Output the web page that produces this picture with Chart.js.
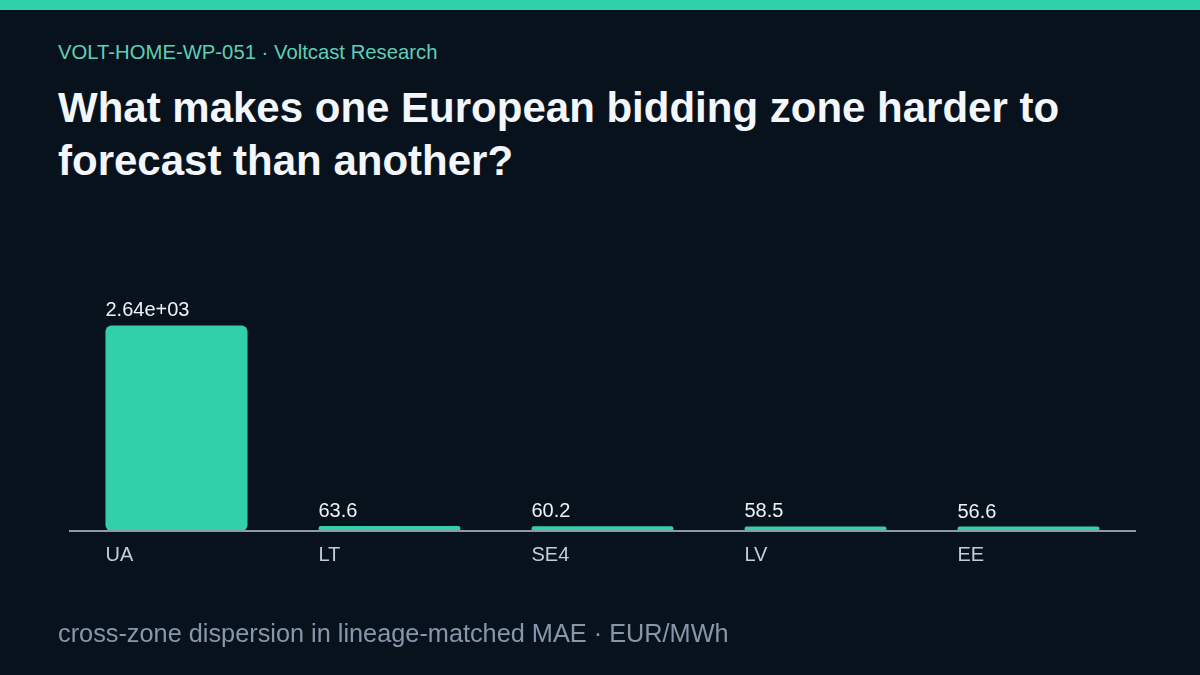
<!DOCTYPE html>
<html>
<head>
<meta charset="utf-8">
<script src="https://cdn.jsdelivr.net/npm/chart.js@4.4.1/dist/chart.umd.min.js"></script>
<style>
  html, body { margin: 0; padding: 0; }
  body {
    width: 1200px; height: 675px; overflow: hidden;
    background: #08121d;
    font-family: "Liberation Sans", Arial, sans-serif;
    position: relative;
  }
  .stripe { position: absolute; left: 0; top: 0; width: 1200px; height: 10px; background: #2fd0a9; }
  .kicker { position: absolute; left: 58px; top: 41px; font-size: 20.3px; color: #5fcfb5; }
  h1 {
    position: absolute; left: 58px; top: 81px; margin: 0; width: 1080px;
    font-size: 42px; line-height: 53px; font-weight: bold; color: #f3f6fa;
  }
  .note { position: absolute; left: 58px; top: 619px; font-size: 25.3px; color: #8796aa; }
  #chart { position: absolute; left: 0; top: 0; }
</style>
</head>
<body>
<div class="stripe"></div>
<div class="kicker">VOLT-HOME-WP-051 · Voltcast Research</div>
<h1>What makes one European bidding zone harder to forecast than another?</h1>
<canvas id="chart" width="1200" height="675"></canvas>
<div class="note">cross-zone dispersion in lineage-matched MAE · EUR/MWh</div>

<script>
// zones and their MAE dispersion (EUR/MWh)
const zones = ['UA', 'LT', 'SE4', 'LV', 'EE'];
const maeValues = [2640, 63.6, 60.2, 58.5, 56.6];

// like %.3g
function fmt(v) {
    return Number(v).toPrecision(3).replace(/e([+-])(\d)$/, 'e$10$2');
}

// value above each bar and zone name under the axis, both left aligned to the bar
const barLabels = {
    id: 'barLabels',
    afterDatasetsDraw(chart) {
        const ctx = chart.ctx;
        const meta = chart.getDatasetMeta(0);
        const bottom = chart.chartArea.bottom;
        ctx.save();
        ctx.textAlign = 'left';
        ctx.textBaseline = 'alphabetic';
        meta.data.forEach(function (bar, i) {
            const left = bar.x - bar.width / 2;
            ctx.font = '20px "Liberation Sans", Arial, sans-serif';
            ctx.fillStyle = '#eef2f6';
            ctx.fillText(fmt(maeValues[i]), left, bar.y - 9);
            ctx.fillStyle = '#c3ccd7';
            ctx.fillText(zones[i], left, bottom + 30);
        });
        ctx.restore();
    }
};

const chartData = {
    labels: zones,
    datasets: [{
        data: maeValues,
        backgroundColor: '#31d0aa',
        borderRadius: 6,
        borderSkipped: false,
        categoryPercentage: 1,
        barPercentage: 0.667
    }]
};

const chartConfig = {
    type: 'bar',
    data: chartData,
    options: {
        responsive: false,
        animation: false,
        layout: { padding: { left: 70, right: 65, top: 230, bottom: 136 } },
        plugins: {
            legend: { display: false },
            tooltip: { enabled: false }
        },
        scales: {
            x: {
                grid: { display: false },
                ticks: { display: false },
                border: { display: true, color: '#8d99ab', width: 2, z: 1 }
            },
            y: {
                display: false,
                min: 0,
                max: 3865
            }
        }
    },
    plugins: [barLabels]
};

new Chart(document.getElementById('chart'), chartConfig);
</script>
</body>
</html>
